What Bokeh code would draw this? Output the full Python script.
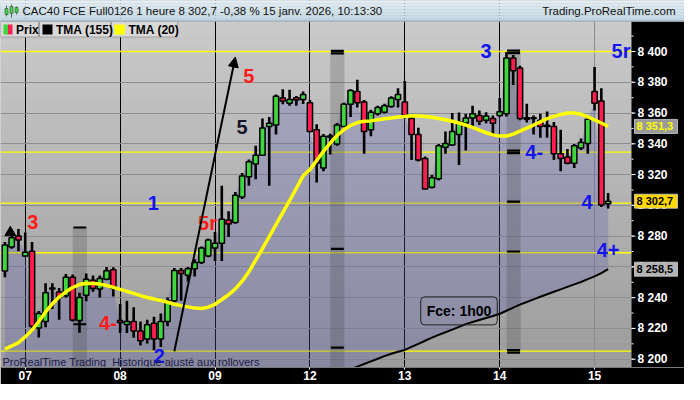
import numpy as np
from bokeh.plotting import figure
from bokeh.models import Range1d, FixedTicker, Span, Label, Arrow, NormalHead
from bokeh.core.properties import value
from bokeh.embed import file_html
from bokeh.resources import INLINE

# ---------------- data ----------------
opens = [8257.3, 8272.9, 8280.1, 8267.1, 8270.2, 8220.3, 8224.5, 8246.3, 8243.6, 8241.3,
         8253.2, 8225.1, 8241.6, 8251.3, 8245.7, 8251.9, 8258.1, 8225.1, 8222.6, 8224.5,
         8218.3, 8213.1, 8223.4, 8213.1, 8224.5, 8238.0, 8257.7, 8254.6, 8258.8, 8262.9,
         8267.1, 8272.3, 8275.4, 8290.4, 8288.9, 8305.5, 8318.6, 8326.9, 8332.5, 8351.2,
         8352.2, 8369.8, 8366.4, 8370.0, 8368.8, 8366.7, 8349.1, 8324.2, 8345.0, 8339.8,
         8351.2, 8365.7, 8374.0, 8367.2, 8349.1, 8359.5, 8360.5, 8364.2, 8368.8, 8367.2,
         8356.4, 8346.0, 8330.4, 8311.7, 8317.3, 8337.7, 8339.3, 8346.0, 8353.5, 8356.8,
         8358.4, 8355.3, 8356.4, 8358.4, 8359.5, 8395.8, 8389.2, 8357.0, 8357.0, 8355.3,
         8351.2, 8351.2, 8333.5, 8331.5, 8327.3, 8337.3, 8340.2, 8374.0, 8367.8, 8301.0]
closes = [8274.3, 8278.9, 8277.5, 8269.5, 8221.4, 8229.7, 8243.2, 8245.7, 8240.1, 8253.2,
          8225.4, 8240.1, 8251.9, 8246.0, 8252.5, 8257.5, 8246.0, 8223.9, 8224.5, 8218.3,
          8212.0, 8222.4, 8213.1, 8224.5, 8238.0, 8257.7, 8255.7, 8258.8, 8262.9, 8272.3,
          8277.5, 8275.4, 8291.0, 8287.9, 8306.5, 8319.0, 8328.4, 8332.5, 8350.2, 8353.3,
          8370.9, 8367.8, 8368.8, 8368.5, 8372.0, 8348.0, 8327.3, 8344.9, 8344.5, 8352.2,
          8365.7, 8374.6, 8366.7, 8348.0, 8360.5, 8363.6, 8364.7, 8369.8, 8372.0, 8358.4,
          8346.0, 8329.4, 8310.7, 8318.0, 8338.7, 8340.2, 8348.0, 8354.1, 8356.8, 8359.5,
          8354.7, 8358.0, 8353.3, 8360.9, 8395.8, 8387.5, 8356.4, 8356.0, 8356.5, 8351.2,
          8352.0, 8333.5, 8330.4, 8327.3, 8338.7, 8340.8, 8356.0, 8366.4, 8300.3, 8302.7]
highs = [8276.2, 8280.6, 8284.7, 8282.4, 8276.2, 8231.4, 8249.4, 8249.4, 8246.3, 8255.3,
         8255.0, 8243.2, 8255.7, 8254.4, 8254.4, 8260.0, 8259.7, 8235.9, 8238.0, 8233.8,
         8224.5, 8225.7, 8227.6, 8229.7, 8240.1, 8259.2, 8259.2, 8260.0, 8265.0, 8273.3,
         8278.5, 8282.6, 8312.8, 8296.1, 8308.6, 8321.0, 8329.8, 8338.7, 8356.4, 8357.4,
         8372.0, 8375.5, 8375.1, 8371.0, 8374.0, 8368.4, 8352.7, 8346.4, 8346.5, 8353.5,
         8366.7, 8375.5, 8381.7, 8368.4, 8362.2, 8364.7, 8366.0, 8370.9, 8376.1, 8380.9,
         8358.4, 8350.5, 8331.7, 8319.8, 8339.8, 8348.0, 8360.1, 8360.3, 8359.5, 8364.7,
         8361.6, 8360.5, 8358.4, 8369.8, 8399.6, 8397.7, 8390.8, 8366.0, 8358.4, 8359.5,
         8361.0, 8354.1, 8349.1, 8336.6, 8339.8, 8343.5, 8357.2, 8390.0, 8376.1, 8308.0]
lows = [8253.2, 8271.8, 8270.2, 8266.6, 8220.1, 8214.1, 8220.8, 8232.6, 8225.7, 8240.1,
        8224.5, 8217.2, 8237.6, 8243.8, 8240.1, 8251.3, 8240.7, 8217.0, 8217.0, 8213.9,
        8208.9, 8210.2, 8205.8, 8207.9, 8221.4, 8237.0, 8238.0, 8250.5, 8253.8, 8261.9,
        8266.2, 8263.9, 8263.9, 8279.5, 8288.0, 8304.2, 8312.8, 8316.9, 8332.0, 8312.8,
        8346.0, 8365.7, 8364.7, 8364.7, 8365.9, 8347.5, 8314.8, 8322.1, 8333.0, 8338.7,
        8351.0, 8357.4, 8363.6, 8333.5, 8344.9, 8358.4, 8359.7, 8363.4, 8363.6, 8356.4,
        8329.4, 8328.5, 8310.5, 8311.0, 8316.1, 8333.5, 8338.5, 8326.2, 8335.6, 8350.2,
        8352.2, 8353.3, 8344.9, 8357.4, 8357.8, 8378.2, 8355.3, 8353.8, 8346.0, 8343.9,
        8344.0, 8329.4, 8322.1, 8326.7, 8324.2, 8336.0, 8333.5, 8361.6, 8299.0, 8298.0]
tma20 = [8206.6, 8208.6, 8210.8, 8214.5, 8218.9, 8224.5, 8230.7, 8236.0, 8240.4, 8243.8,
         8246.6, 8248.5, 8249.4, 8249.2, 8248.8, 8247.9, 8246.7, 8245.4, 8244.1, 8242.8,
         8241.3, 8240.1, 8239.1, 8238.2, 8237.0, 8235.7, 8234.8, 8234.0, 8233.2, 8232.9,
         8233.8, 8235.7, 8238.8, 8241.9, 8245.7, 8250.7, 8256.9, 8264.4, 8271.8, 8279.6,
         8287.4, 8295.2, 8303.0, 8311.1, 8319.2, 8323.2, 8329.2, 8335.1, 8340.4, 8345.4,
         8349.1, 8351.9, 8353.8, 8354.6, 8354.9, 8355.6, 8356.3, 8356.8, 8357.4, 8357.8,
         8358.3, 8358.1, 8357.7, 8357.2, 8356.4, 8355.6, 8354.7, 8353.5, 8352.2, 8350.7,
         8348.9, 8347.2, 8345.8, 8345.0, 8345.0, 8346.3, 8348.2, 8350.2, 8352.2, 8354.3,
         8356.4, 8357.8, 8359.1, 8360.0, 8360.0, 8359.2, 8357.5, 8355.6, 8353.5, 8351.3]
tma155_first = 51  # first bar where TMA(155) is read (it enters from below the chart)
tma155 = [8193.5, 8195.2, 8196.9, 8198.6, 8200.3, 8202.0, 8203.5, 8204.8, 8206.0, 8208.0,
          8210.0, 8212.0, 8214.0, 8215.8, 8217.5, 8219.2, 8221.0, 8222.8, 8224.2, 8225.5,
          8226.8, 8228.1, 8229.5, 8231.5, 8233.5, 8235.5, 8237.2, 8238.9, 8240.6, 8242.2,
          8243.8, 8245.4, 8247.0, 8248.6, 8250.2, 8252.0, 8253.8, 8256.0, 8258.5]

day_ticks = [3, 17, 31, 45, 59, 73, 87]
day_labels = ["07", "08", "09", "12", "13", "14", "15"]
price_ticks = list(range(8200, 8401, 20))
price_minor = list(range(8190, 8411, 10))
levels = [8400.0, 8334.6, 8301.5, 8269.2, 8205.2]          # yellow horizontal lines
band_start = [10, 48, 74]                                     # shaded 2-bar bands
band_top = [8285.6, 8401.0, 8400.4]
band_bottom = [None, None, 8205.0]
band_marks = [[8285.6, 8222.7], [8400.4, 8398.8, 8271.7, 8207.5],
              [8400.6, 8399.0, 8335.6, 8334.0, 8302.4, 8270.0, 8205.9, 8204.3]]

ann_text = ["3", "4-", "2", "1", "5r", "5", "5", "3", "5r", "4-", "4", "4+"]
ann_x = [4.1, 15.2, 22.8, 21.9, 29.9, 36.0, 35.0, 71.0, 90.9, 78.1, 85.9, 89.0]
ann_y = [8289.3, 8223.3, 8202.1, 8301.4, 8288.4, 8384.4, 8351.2, 8400.5, 8400.5, 8335.0, 8302.4, 8270.7]
RED, BLUE, DARK = "#ff1a1a", "#1414f0", "#141428"
ann_color = [RED, RED, BLUE, BLUE, RED, RED, DARK, BLUE, BLUE, BLUE, BLUE, BLUE]

title_text = "CAC40 FCE Full0126 1 heure 8 302,7 -0,38 % 15 janv. 2026, 10:13:30"
site_text = "Trading.ProRealTime.com"
legend_names = ["Prix", "TMA (155)", "TMA (20)"]
note_text = "ProRealTime Trading \u00a0Historique ajusté aux rollovers"

# ---------------- geometry (frame = whole canvas above the time axis) ----------------
W, H, AXB = 684, 384, 17
DATA_W, TITLE_H = 631, 21
X0, X1 = -0.65, 92.45          # visible bar range of the price panel
Y0, Y1 = 8194.6, 8419.5         # visible price range of the price panel
SX = DATA_W / (X1 - X0)
SY = (H - AXB - TITLE_H) / (Y1 - Y0)
YT = Y1 + TITLE_H / SY
XR = X0 + W / SX


def XD(px):
    return X0 + px / SX


def YD(py):
    return YT - py / SY


FONT = "Liberation Sans"
n = len(closes)
idx = np.arange(n)
o = np.array(opens); c = np.array(closes)

p = figure(width=W, height=H, x_range=Range1d(X0, XR), y_range=Range1d(Y0, YT),
           y_axis_location=None, toolbar_location=None, output_backend="svg",
           min_border_left=0, min_border_top=0, min_border_right=0, min_border_bottom=AXB)
p.border_fill_color = "black"
p.background_fill_color = "#b4b4b4"
p.outline_line_color = None

# gradient background of the price panel
ns = 40
edges = np.linspace(Y0, Y1, ns + 1)
top_rgb = np.array([203, 203, 203]); bot_rgb = np.array([156, 156, 156])
cols = ["#%02x%02x%02x" % tuple((bot_rgb + (top_rgb - bot_rgb) * (k + 0.5) / ns).astype(int))
        for k in range(ns)]
p.quad(left=X0, right=X1, bottom=edges[:-1], top=edges[1:] + 0.05, fill_color=cols,
       line_color=None, level="image")

# time axis
p.xaxis.ticker = FixedTicker(ticks=day_ticks)
p.xaxis.major_label_overrides = dict(zip(day_ticks, day_labels))
p.xaxis.major_label_text_color = "white"
p.xaxis.major_label_text_font = FONT
p.xaxis.major_label_text_font_style = "bold"
p.xaxis.major_label_text_font_size = "12px"
p.xaxis.major_tick_line_color = "white"
p.xaxis.major_tick_out = 2
p.xaxis.major_tick_in = 0
p.xaxis.minor_tick_line_color = None
p.xaxis.axis_line_color = "#7a7a7a"
p.xaxis.major_label_standoff = 1

p.ygrid.ticker = FixedTicker(ticks=price_ticks)
p.ygrid.grid_line_color = "#8e8e8e"
p.xgrid.ticker = FixedTicker(ticks=day_ticks[:-1])
p.xgrid.grid_line_color = "black"
p.add_layout(Span(location=day_ticks[-1], dimension="height", line_color="#8a8a8a",
                  line_width=1, level="underlay"))
for lv in levels:
    p.add_layout(Span(location=lv, dimension="width", line_color="#ffff00",
                      line_width=1.3, level="underlay"))

# area between price and TMA(155)
lower = np.full(n, Y0 - 5.0)
lower[tma155_first:] = tma155
p.varea(x=idx, y1=lower, y2=c, fill_color="#5a5ab4", fill_alpha=0.28)

# shaded bands and their marks
for bs, bt, bb, marks in zip(band_start, band_top, band_bottom, band_marks):
    p.quad(left=bs, right=bs + 2.1, top=bt, bottom=(Y0 - 2 if bb is None else bb),
           fill_color="#3a3a3a", fill_alpha=0.22, line_color=None)
    p.segment(x0=[bs + 0.1] * len(marks), x1=[bs + 2.0] * len(marks), y0=marks, y1=marks,
              line_color="black", line_width=2.2)

# candles
p.segment(x0=idx, y0=highs, x1=idx, y1=lows, line_color="black", line_width=2.6)
body_col = np.where(c >= o, "#3fd63f", "#ff1e50")
p.vbar(x=idx, width=0.78, top=np.maximum(o, c), bottom=np.minimum(o, c),
       fill_color=body_col, line_color="black", line_width=1.5)

# averages
p.line(idx[tma155_first:], tma155, line_color="black", line_width=2)
p.line(idx, tma20, line_color="#ffff00", line_width=3.5)

# drawn arrow and marker
p.add_layout(Arrow(end=NormalHead(size=10, fill_color="black", line_color="black"),
                   x_start=25.0, y_start=8205.2, x_end=34.0, y_end=8396.4,
                   line_color="black", line_width=2))
p.scatter(x=[0.8], y=[8282.3], marker="triangle", size=11, color="black")

# wave annotations
p.text(x=ann_x, y=ann_y, text=ann_text, text_color=ann_color, text_font=value(FONT),
       text_font_style="bold", text_font_size="20px", text_align="center",
       text_baseline="middle")
p.text(x=[XD(2)], y=[YD(361)], text=[note_text], text_color="#1c1c44", text_font=value(FONT),
       text_font_size="11px", text_align="left", text_baseline="middle")
p.add_layout(Label(x=67.0, y=8231.4, text="Fce: 1h00", text_align="center",
                   text_baseline="middle", text_font=FONT, text_font_style="bold",
                   text_font_size="14px", text_color="black",
                   border_line_color="#202020", border_line_width=1,
                   padding=6, border_radius=4))

# legend row (buttons)
LT, LB = Y1, YD(TITLE_H + 15.5)
p.quad(left=[X0, XD(39), XD(111)], right=[XD(38), XD(110), XD(177)], top=LT, bottom=LB,
       fill_color="#d9d9d9", line_color="#a0a0a0", line_width=1)
ib, it = YD(TITLE_H + 13), YD(TITLE_H + 3)
p.quad(left=[XD(3), XD(7.5), XD(42), XD(114)], right=[XD(7.5), XD(12), XD(52), XD(124.5)],
       top=it, bottom=ib, fill_color=["#3fd63f", "#ff1e50", "black", "#ffff00"], line_color=None)
p.text(x=[XD(15.5), XD(55.5), XD(128)], y=[YD(TITLE_H + 8)] * 3, text=legend_names,
       text_color="black", text_font=value(FONT), text_font_style="bold",
       text_font_size="12px", text_align="left", text_baseline="middle")

# price scale column (right)
p.quad(left=X1, right=XR + 1, top=Y1 + 0.01, bottom=Y0 - 10, fill_color="black", line_color=None)
p.segment(x0=[X1] * len(price_ticks), x1=[XD(DATA_W + 4)] * len(price_ticks),
          y0=price_ticks, y1=price_ticks, line_color="white", line_width=1)
p.segment(x0=[X1] * len(price_minor), x1=[XD(DATA_W + 2)] * len(price_minor),
          y0=price_minor, y1=price_minor, line_color="white", line_width=1)
p.text(x=[XD(DATA_W + 6)] * len(price_ticks), y=price_ticks,
       text=[f"{t:,}".replace(",", " ") for t in price_ticks], text_color="white",
       text_font=value(FONT), text_font_style="bold", text_font_size="12px",
       text_align="left", text_baseline="middle")


def fmt(v):
    return f"{v:,.1f}".replace(",", " ").replace(".", ",")


tag_vals = [tma20[-1], closes[-1], tma155[-1]]
tag_fg = ["#ffff00", "black", "black"]
tag_bg = ["#9a9a9a", "#ffd800", "#b4b4b4"]
hh = 7 / SY
p.quad(left=XD(DATA_W + 3), right=XD(DATA_W + 46), top=[v + hh for v in tag_vals],
       bottom=[v - hh for v in tag_vals], fill_color=tag_bg, line_color="#d0d0d0", line_width=0.8)
p.text(x=[XD(DATA_W + 5)] * 3, y=tag_vals, text=[fmt(v) for v in tag_vals], text_color=tag_fg,
       text_font=value(FONT), text_font_style="bold", text_font_size="11px",
       text_align="left", text_baseline="middle")

# title bar
tb = np.linspace(YD(TITLE_H), YT, 8)
tcols = ["#c4d8e4", "#c9dce7", "#cee0ea", "#d3e3ec", "#d8e7ef", "#dde9f1", "#e2edf3"]
p.quad(left=X0 - 1, right=XR + 1, bottom=tb[:-1], top=tb[1:] + 0.05, fill_color=tcols,
       line_color=None)
p.segment(x0=[X0 - 1], x1=[XR + 1], y0=[YD(TITLE_H - 0.5)], y1=[YD(TITLE_H - 0.5)],
          line_color="#8fa4b0", line_width=1)
ic_x = [XD(6), XD(11), XD(16)]
p.segment(x0=ic_x, x1=ic_x, y0=[YD(16), YD(17), YD(14)], y1=[YD(5), YD(4), YD(6)],
          line_color="#4a6a4a", line_width=1)
p.vbar(x=ic_x, width=3 / SX, top=[YD(8), YD(6), YD(7)], bottom=[YD(14), YD(13), YD(12)],
       fill_color="#3fd63f", line_color="#4a6a4a", line_width=0.8)
p.text(x=[XD(22)], y=[YD(10.5)], text=[title_text], text_font=value(FONT),
       text_font_size="11.5px", text_color="#101010", text_align="left", text_baseline="middle")
p.text(x=[XD(675)], y=[YD(10.5)], text=[site_text], text_font=value(FONT),
       text_font_size="11.5px", text_color="#101010", text_align="right", text_baseline="middle")

open("out.html", "w").write(file_html(p, INLINE))
